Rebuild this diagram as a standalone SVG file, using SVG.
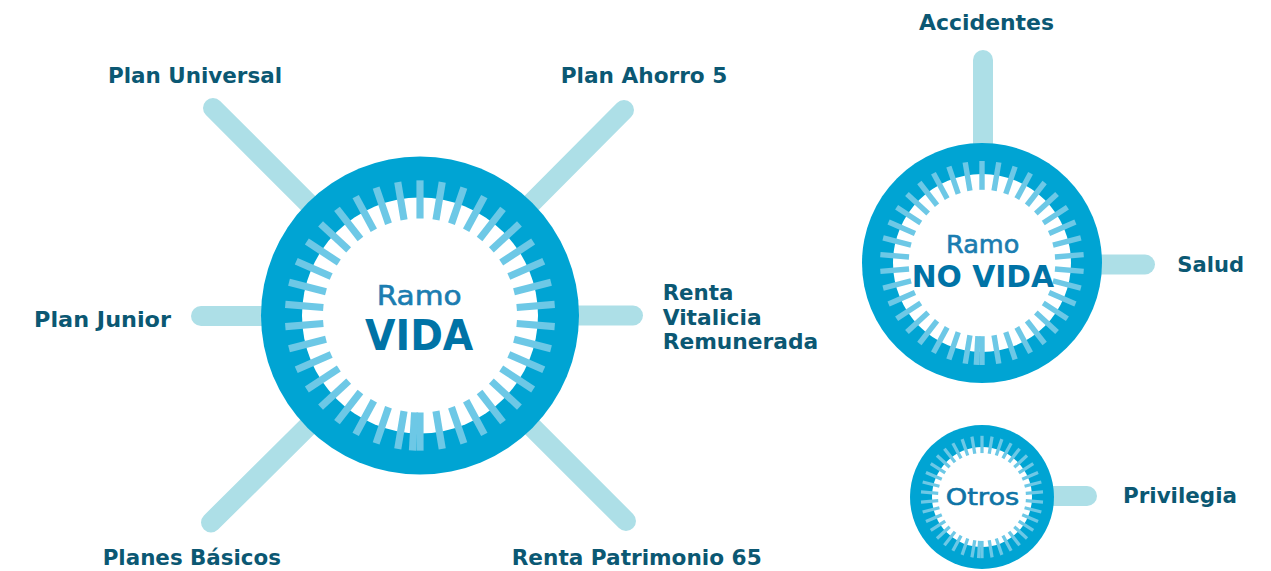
<svg xmlns="http://www.w3.org/2000/svg" xmlns:xlink="http://www.w3.org/1999/xlink" width="1271" height="571" viewBox="0 0 1271 571">
<style>
.conn{stroke:#ADDFE7;stroke-width:20;stroke-linecap:round;fill:none}
.outer{fill:#00A4D3}
.inner{fill:#FFFFFF}
.lbl{font-family:"DejaVu Sans","Liberation Sans",sans-serif;font-weight:bold;font-size:21px;fill:#0B5873}
.ramo{font-family:"DejaVu Sans","Liberation Sans",sans-serif;fill:#1B7DB1;stroke:#1B7DB1;stroke-width:0.6px}
.big{font-family:"DejaVu Sans","Liberation Sans",sans-serif;font-weight:bold;fill:#0073A6}
</style>
<defs>
<line id="t" x1="0" y1="-0.61" x2="0" y2="-0.85" stroke="#6DC8E6" stroke-width="0.045"/>
<g id="ticks">
<use xlink:href="#t" transform="rotate(0)"/><use xlink:href="#t" transform="rotate(9.474)"/><use xlink:href="#t" transform="rotate(18.947)"/><use xlink:href="#t" transform="rotate(28.421)"/><use xlink:href="#t" transform="rotate(37.895)"/><use xlink:href="#t" transform="rotate(47.368)"/><use xlink:href="#t" transform="rotate(56.842)"/><use xlink:href="#t" transform="rotate(66.316)"/><use xlink:href="#t" transform="rotate(75.789)"/><use xlink:href="#t" transform="rotate(85.263)"/>
<use xlink:href="#t" transform="rotate(94.737)"/><use xlink:href="#t" transform="rotate(104.211)"/><use xlink:href="#t" transform="rotate(113.684)"/><use xlink:href="#t" transform="rotate(123.158)"/><use xlink:href="#t" transform="rotate(132.632)"/><use xlink:href="#t" transform="rotate(142.105)"/><use xlink:href="#t" transform="rotate(151.579)"/><use xlink:href="#t" transform="rotate(161.053)"/><use xlink:href="#t" transform="rotate(170.526)"/><use xlink:href="#t" transform="rotate(180)"/>
<use xlink:href="#t" transform="rotate(183.2)"/>
<use xlink:href="#t" transform="rotate(189.474)"/><use xlink:href="#t" transform="rotate(198.947)"/><use xlink:href="#t" transform="rotate(208.421)"/><use xlink:href="#t" transform="rotate(217.895)"/><use xlink:href="#t" transform="rotate(227.368)"/><use xlink:href="#t" transform="rotate(236.842)"/><use xlink:href="#t" transform="rotate(246.316)"/><use xlink:href="#t" transform="rotate(255.789)"/><use xlink:href="#t" transform="rotate(265.263)"/><use xlink:href="#t" transform="rotate(274.737)"/>
<use xlink:href="#t" transform="rotate(284.211)"/><use xlink:href="#t" transform="rotate(293.684)"/><use xlink:href="#t" transform="rotate(303.158)"/><use xlink:href="#t" transform="rotate(312.632)"/><use xlink:href="#t" transform="rotate(322.105)"/><use xlink:href="#t" transform="rotate(331.579)"/><use xlink:href="#t" transform="rotate(341.053)"/><use xlink:href="#t" transform="rotate(350.526)"/>
</g>
</defs>
<rect width="1271" height="571" fill="#FFFFFF"/>
<g id="connectors">
<line class="conn" x1="213" y1="108" x2="420" y2="315"/>
<line class="conn" x1="624" y1="110" x2="420" y2="315"/>
<line class="conn" x1="201" y1="316" x2="420" y2="316"/>
<line class="conn" x1="633" y1="315.5" x2="420" y2="315.5"/>
<line class="conn" x1="211" y1="522.5" x2="420" y2="315"/>
<line class="conn" x1="626" y1="521" x2="420" y2="315"/>
<line class="conn" x1="983" y1="60" x2="983" y2="263"/>
<line class="conn" x1="1145" y1="264.5" x2="982" y2="264.5"/>
<line class="conn" x1="1087" y1="496" x2="982" y2="496"/>
</g>
<g id="ramo-vida">
<circle class="outer" cx="420" cy="315.5" r="159"/>
<circle class="inner" cx="420" cy="315.5" r="118"/>
<use xlink:href="#ticks" transform="translate(420,315.5) scale(159)"/>
<text class="ramo" x="376.7" y="305" font-size="27" textLength="85" lengthAdjust="spacingAndGlyphs">Ramo</text>
<text class="big" x="365" y="350" font-size="42" textLength="108.3" lengthAdjust="spacingAndGlyphs">VIDA</text>
</g>
<g id="ramo-no-vida">
<circle class="outer" cx="982" cy="263" r="120"/>
<circle class="inner" cx="982" cy="263" r="89"/>
<use xlink:href="#ticks" transform="translate(982,263) scale(120)"/>
<text class="ramo" x="946" y="252.7" font-size="24" textLength="73.3" lengthAdjust="spacingAndGlyphs">Ramo</text>
<text class="big" x="911.7" y="286.7" font-size="30" textLength="142.3" lengthAdjust="spacingAndGlyphs">NO VIDA</text>
</g>
<g id="otros">
<circle class="outer" cx="982" cy="497" r="72"/>
<circle class="inner" cx="982" cy="497" r="50"/>
<use xlink:href="#ticks" transform="translate(982,497) scale(72)"/>
<text class="ramo" x="945.7" y="505" font-size="23" textLength="73.6" lengthAdjust="spacingAndGlyphs" style="fill:#0E74A6;stroke:#0E74A6">Otros</text>
</g>
<g id="plan-universal"><text class="lbl" x="108" y="83" textLength="174" lengthAdjust="spacingAndGlyphs">Plan Universal</text></g>
<g id="plan-ahorro-5"><text class="lbl" x="560.7" y="83.3" textLength="166.6" lengthAdjust="spacingAndGlyphs">Plan Ahorro 5</text></g>
<g id="plan-junior"><text class="lbl" x="34" y="327" textLength="137" lengthAdjust="spacingAndGlyphs">Plan Junior</text></g>
<g id="renta-vitalicia">
<text class="lbl" x="662.7" y="300" textLength="70.7" lengthAdjust="spacingAndGlyphs">Renta</text>
<text class="lbl" x="662.7" y="324.5" textLength="99" lengthAdjust="spacingAndGlyphs">Vitalicia</text>
<text class="lbl" x="662.7" y="349" textLength="155.6" lengthAdjust="spacingAndGlyphs">Remunerada</text>
</g>
<g id="planes-basicos"><text class="lbl" x="102.7" y="565" textLength="178.3" lengthAdjust="spacingAndGlyphs">Planes Básicos</text></g>
<g id="renta-patrimonio-65"><text class="lbl" x="511.7" y="565" textLength="250" lengthAdjust="spacingAndGlyphs">Renta Patrimonio 65</text></g>
<g id="accidentes"><text class="lbl" x="919" y="30" textLength="135" lengthAdjust="spacingAndGlyphs">Accidentes</text></g>
<g id="salud"><text class="lbl" x="1177.3" y="271.7" textLength="66.7" lengthAdjust="spacingAndGlyphs">Salud</text></g>
<g id="privilegia"><text class="lbl" x="1123" y="503" textLength="114" lengthAdjust="spacingAndGlyphs">Privilegia</text></g>
</svg>
